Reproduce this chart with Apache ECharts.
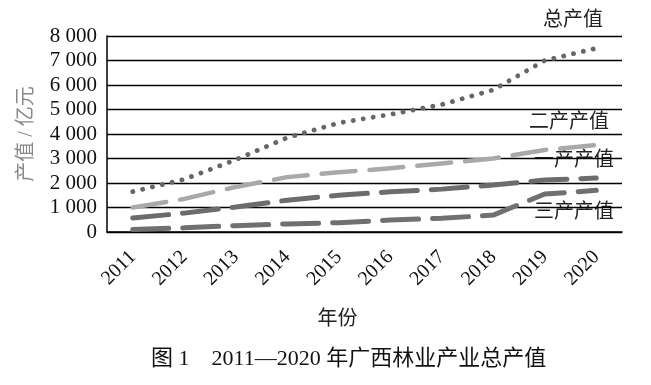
<!DOCTYPE html>
<html><head><meta charset="utf-8">
<script src="https://cdn.jsdelivr.net/npm/echarts@6/dist/echarts.min.js"></script>
<style>html,body{margin:0;padding:0;background:#fff}#c{width:651px;height:385px}</style>
</head><body><div id="c"></div>
<script>
const years = ['2011','2012','2013','2014','2015','2016','2017','2018','2019','2020'];
const totalValue = [1650, 2150, 2950, 3850, 4450, 4800, 5200, 5800, 7000, 7500];
const secondary = [1000, 1350, 1840, 2240, 2440, 2600, 2800, 3000, 3350, 3550];
const primary = [570, 770, 1020, 1300, 1500, 1640, 1750, 1920, 2120, 2200];
const tertiary = [100, 170, 260, 330, 380, 490, 560, 690, 1550, 1700];
const seriesNames = ['总产值', '二产产值', '一产产值', '三产产值'];
const yTicks = [0, 1000, 2000, 3000, 4000, 5000, 6000, 7000, 8000];

const serif = '"Liberation Serif", "Noto Sans CJK SC", serif';
const chart = echarts.init(document.getElementById('c'));
const mk = (name, data, color, width, dash) => ({
  name, type: 'line', data, symbol: 'none', silent: true,
  lineStyle: { color, width, type: dash, cap: 'round' }
});
chart.setOption({
  animation: false,
  backgroundColor: '#fff',
  title: {
    text: '图 1　2011—2020 年广西林业产业总产值',
    left: 146, top: 343,
    textStyle: { fontFamily: serif, fontSize: 22, fontWeight: 'normal', color: '#111' }
  },
  grid: { left: 107, right: 29, top: 36, bottom: 153 },
  xAxis: {
    type: 'category', data: years, boundaryGap: true,
    name: '年份', nameLocation: 'middle', nameGap: 78,
    nameTextStyle: { fontFamily: serif, fontSize: 20, color: '#222', padding: [0, 54, 0, 0] },
    axisLine: { lineStyle: { color: '#000', width: 1.5 } },
    axisTick: { show: false },
    axisLabel: { rotate: 45, margin: 22, fontFamily: serif, fontSize: 20, color: '#111' }
  },
  yAxis: {
    type: 'value', min: yTicks[0], max: yTicks[yTicks.length - 1], interval: 1000,
    name: '产值 / 亿元', nameLocation: 'middle', nameGap: 70, nameRotate: 90,
    nameTextStyle: { fontFamily: serif, fontSize: 20, color: '#888' },
    axisLine: { show: true, lineStyle: { color: '#000', width: 1.5 } },
    axisTick: { show: false },
    splitLine: { lineStyle: { color: '#000', width: 1.3 } },
    axisLabel: {
      margin: 10, fontFamily: serif, fontSize: 21, color: '#111',
      formatter: v => String(v).replace(/\B(?=(\d{3})+(?!\d))/g, ' ')
    }
  },
  series: [
    mk(seriesNames[0], totalValue, '#666', 4.8, [0.1, 10]),
    mk(seriesNames[1], secondary, '#a9a9a9', 4.5, [34, 14]),
    mk(seriesNames[2], primary, '#6c6c6c', 5, [36, 14]),
    mk(seriesNames[3], tertiary, '#707070', 5, [36, 14])
  ],
  graphic: [
    { type: 'text', left: 543, top: 11, style: { text: seriesNames[0], font: '20px ' + serif, fill: '#222' } },
    { type: 'text', left: 529, top: 113, style: { text: seriesNames[1], font: '20px ' + serif, fill: '#222' } },
    { type: 'text', left: 534, top: 151, style: { text: seriesNames[2], font: '20px ' + serif, fill: '#222' } },
    { type: 'text', left: 534, top: 203, style: { text: seriesNames[3], font: '20px ' + serif, fill: '#222' } }
  ]
});
</script></body></html>
